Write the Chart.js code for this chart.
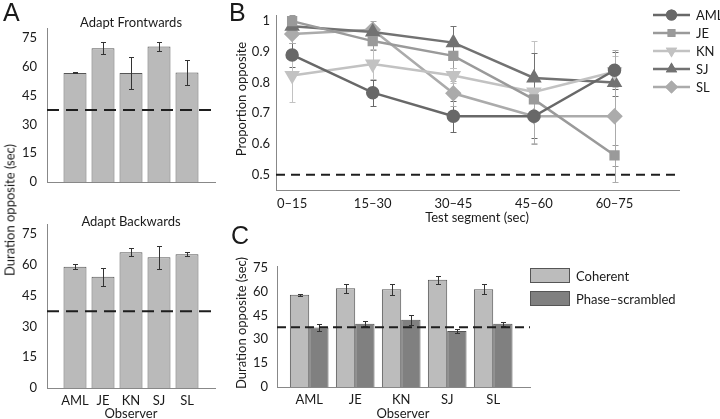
<!DOCTYPE html>
<html>
<head>
<meta charset="utf-8">
<script src="https://cdn.jsdelivr.net/npm/chart.js@4.4.1/dist/chart.umd.min.js"></script>
<style>
  html, body { margin: 0; padding: 0; background: #fff; }
  #fig { position: relative; width: 720px; height: 419px; overflow: hidden; font-family: Lato, 'Open Sans', sans-serif; color: #1a1a1a; }
  .box { position: absolute; }
  .box canvas { display: block; }
  .t { position: absolute; transform: translate(-50%, -50%); white-space: nowrap; font-size: 13px; line-height: 1; }
  .rot { transform: translate(-50%, -50%) rotate(-90deg); }
  .letter { position: absolute; font-family: 'Liberation Sans', Arial, sans-serif; font-size: 25px; line-height: 1; }
  .lt { position: absolute; font-size: 13px; line-height: 1; transform: translateY(-50%); white-space: nowrap; }
  .sw { position: absolute; width: 40px; height: 15px; box-sizing: border-box; border: 1px solid #555; }
</style>
</head>
<body>
<div id="fig">
  <div class="box" style="left:0;top:0;width:225px;height:200px"><canvas id="front" width="225" height="200"></canvas></div>
  <div class="box" style="left:0;top:200px;width:225px;height:219px"><canvas id="back" width="225" height="219"></canvas></div>
  <div class="box" style="left:236px;top:0;width:484px;height:230px"><canvas id="segments" width="484" height="230"></canvas></div>
  <div class="box" style="left:236px;top:250px;width:300px;height:169px"><canvas id="coherence" width="300" height="169"></canvas></div>

  <div class="letter" style="left:3px;top:0">A</div>
  <div class="letter" style="left:229px;top:0">B</div>
  <div class="letter" style="left:231px;top:223px">C</div>

  <div class="t" style="left:131px;top:22px">Adapt Frontwards</div>
  <div class="t" style="left:131px;top:221px">Adapt Backwards</div>
  <div class="t rot" style="left:10px;top:210px">Duration opposite (sec)</div>
  <div class="t" style="left:131px;top:413px">Observer</div>

  <div class="t rot" style="left:241px;top:99px">Proportion opposite</div>
  <div class="t" style="left:477px;top:217px">Test segment (sec)</div>
  <div id="legend-b"></div>

  <div class="t rot" style="left:241px;top:323px">Duration opposite (sec)</div>
  <div class="t" style="left:403px;top:413px">Observer</div>
  <div class="sw" style="left:530px;top:268px;background:#bcbcbc"></div>
  <div class="lt" style="left:576px;top:276px">Coherent</div>
  <div class="sw" style="left:530px;top:291px;background:#808080"></div>
  <div class="lt" style="left:576px;top:299px">Phase–scrambled</div>
</div>
<script>
(() => {
  'use strict';
  // observers and test segments
  const OBSERVERS = ['AML', 'JE', 'KN', 'SJ', 'SL'];
  const SEGMENTS = ['0–15', '15–30', '30–45', '45–60', '60–75'];
  const DURATION_TICKS = [0, 15, 30, 45, 60, 75];
  const PROPORTION_TICKS = [0.5, 0.6, 0.7, 0.8, 0.9, 1];
  const PROPORTION_LABELS = ['0.5', '0.6', '0.7', '0.8', '0.9', '1'];
  const CHANCE_DURATION = 37.5;
  const CHANCE_PROPORTION = 0.5;

  // panel A (sec)
  const FRONT_MEAN = [56.7, 69.5, 56.6, 70.4, 56.9];
  const FRONT_ERR = [0.3, 3.2, 8.4, 2.5, 6.3];
  const BACK_MEAN = [59.2, 54.3, 66.2, 63.8, 65.2];
  const BACK_ERR = [1.1, 4.3, 2.0, 5.6, 0.9];

  // panel B (proportion opposite per segment)
  const AML_PROP = [0.89, 0.767, 0.69, 0.69, 0.84];
  const AML_ERR = [0.04, 0.042, 0.05, 0.07, 0.06];
  const JE_PROP = [1.0, 0.935, 0.887, 0.745, 0.563];
  const JE_ERR = [0.02, 0.03, 0.04, 0.06, 0.035];
  const KN_PROP = [0.823, 0.86, 0.823, 0.769, 0.835];
  const KN_ERR = [0.087, 0.05, 0.025, 0.165, 0.05];
  const SJ_PROP = [0.983, 0.965, 0.93, 0.815, 0.80];
  const SJ_ERR = [0.02, 0.02, 0.055, 0.08, 0.045];
  const SL_PROP = [0.958, 0.972, 0.765, 0.69, 0.69];
  const SL_ERR = [0.03, 0.03, 0.04, 0.09, 0.215];

  // panel C (sec)
  const COHERENT = [57.9, 62.0, 61.4, 67.4, 61.4];
  const COHERENT_ERR = [0.7, 3.0, 3.5, 2.6, 3.0];
  const SCRAMBLED = [37.3, 39.8, 42.2, 35.1, 39.8];
  const SCRAMBLED_ERR = [2.0, 1.6, 3.2, 1.3, 1.2];

  const SERIES = [
    { label: 'AML', values: AML_PROP, err: AML_ERR, color: '#686868', style: 'circle', rot: 0, r: 5.5 },
    { label: 'JE', values: JE_PROP, err: JE_ERR, color: '#9a9a9a', style: 'rect', rot: 0, r: 5.5 },
    { label: 'KN', values: KN_PROP, err: KN_ERR, color: '#c2c2c2', style: 'triangle', rot: 180, r: 6.5 },
    { label: 'SJ', values: SJ_PROP, err: SJ_ERR, color: '#727272', style: 'triangle', rot: 0, r: 6.5 },
    { label: 'SL', values: SL_PROP, err: SL_ERR, color: '#ababab', style: 'rectRot', rot: 0, r: 6.5 }
  ];

  const $ = id => document.getElementById(id);
  Chart.defaults.font.family = "Lato, 'Open Sans', sans-serif";
  Chart.defaults.font.size = 13;
  Chart.defaults.color = '#1a1a1a';
  Chart.defaults.animation = false;

  function drawErrors(chart, opts) {
    const { ctx, chartArea: a, scales: { y } } = chart;
    ctx.save();
    ctx.beginPath(); ctx.rect(a.left, a.top - 1, a.right - a.left, a.bottom - a.top + 1); ctx.clip();
    chart.data.datasets.forEach((ds, i) => {
      if (!ds.err) return;
      ctx.strokeStyle = ds.errColor || opts.color;
      ctx.lineWidth = 1;
      chart.getDatasetMeta(i).data.forEach((el, j) => {
        const v = ds.data[j].y, e = ds.err[j];
        const top = Math.round(y.getPixelForValue(v + e)) + 0.5, bot = Math.round(y.getPixelForValue(v - e)) + 0.5;
        const x = Math.round(el.x) + 0.5, c = opts.cap;
        ctx.beginPath();
        ctx.moveTo(x, top); ctx.lineTo(x, bot);
        ctx.moveTo(x - c, top); ctx.lineTo(x + c, top);
        ctx.moveTo(x - c, bot); ctx.lineTo(x + c, bot);
        ctx.stroke();
      });
    });
    ctx.restore();
  }

  const errorBars = {
    id: 'errorBars',
    beforeDatasetsDraw(chart, args, opts) { if (opts.behind) drawErrors(chart, opts); },
    afterDatasetsDraw(chart, args, opts) { if (!opts.behind) drawErrors(chart, opts); }
  };

  const refLine = {
    id: 'refLine',
    afterDatasetsDraw(chart, args, opts) {
      const { ctx, chartArea: a, scales: { y } } = chart;
      const py = y.getPixelForValue(opts.value);
      ctx.save();
      ctx.strokeStyle = '#1e1e1e'; ctx.lineWidth = 2; ctx.setLineDash(opts.dash);
      ctx.beginPath(); ctx.moveTo(a.left, py); ctx.lineTo(a.right, py); ctx.stroke();
      ctx.restore();
    }
  };

  const legendMarks = {
    id: 'legendMarks',
    afterDraw(chart, args, opts) {
      const ctx = chart.ctx;
      SERIES.forEach((s, k) => {
        const y = opts.top + k * opts.step;
        ctx.save();
        ctx.strokeStyle = s.color; ctx.fillStyle = s.color; ctx.lineWidth = 2.5;
        ctx.beginPath(); ctx.moveTo(opts.left, y); ctx.lineTo(opts.left + 37, y); ctx.stroke();
        Chart.helpers.drawPoint(ctx, { pointStyle: s.style, radius: s.r, rotation: s.rot, borderWidth: 0 }, opts.left + 18.5, y);
        ctx.fill();
        ctx.restore();
      });
    }
  };

  const axisLine = { color: '#888', width: 1 };
  const noGrid = { display: false, drawTicks: false };

  function fixedTicks(values) { return scale => { scale.ticks = values.map(v => ({ value: v })); }; }

  function durationBars(id, mean, err, showLabels, padTop, xHeight) {
    return new Chart($(id), {
      type: 'bar',
      data: { datasets: [{ data: mean.map((v, i) => ({ x: i + 1, y: v })), err,
        backgroundColor: '#bababa', borderColor: '#555', borderWidth: 1, barPercentage: 0.82, categoryPercentage: 1 }] },
      options: {
        responsive: false, layout: { padding: { top: padTop, right: 10 } },
        plugins: { legend: { display: false }, tooltip: { enabled: false },
          errorBars: { color: '#333', cap: 2.5 }, refLine: { value: CHANCE_DURATION, dash: [12, 7] } },
        scales: {
          x: { type: 'linear', offset: false, min: 0, max: 6, grid: noGrid, border: axisLine,
            afterBuildTicks: fixedTicks(OBSERVERS.map((_, i) => i + 1)),
            ticks: { display: showLabels, padding: 5, callback: v => OBSERVERS[v - 1] },
            afterFit: s => { s.height = xHeight; } },
          y: { min: 0, max: 80, grid: noGrid, border: axisLine,
            afterBuildTicks: fixedTicks(DURATION_TICKS), ticks: { padding: 10 },
            afterFit: s => { s.width = 47; } }
        }
      },
      plugins: [errorBars, refLine]
    });
  }

  function renderSegments() {
    const legend = $('legend-b');
    legend.innerHTML = SERIES.map((s, k) => `<div class="lt" style="left:696px;top:${15 + k * 18}px">${s.label}</div>`).join('');
    new Chart($('segments'), {
      type: 'line',
      data: { datasets: SERIES.map(s => ({
        label: s.label, data: s.values.map((v, i) => ({ x: i, y: v })), err: s.err, errColor: s.color,
        borderColor: s.color, backgroundColor: s.color, pointBorderColor: s.color, pointBackgroundColor: s.color,
        pointStyle: s.style, pointRotation: s.rot, pointRadius: s.r, borderWidth: 2.5, clip: false
      })) },
      options: {
        responsive: false, layout: { padding: { top: 15, right: 41 } },
        plugins: { legend: { display: false }, tooltip: { enabled: false },
          errorBars: { cap: 3, behind: true }, refLine: { value: CHANCE_PROPORTION, dash: [9, 6] },
          legendMarks: { left: 417, top: 15, step: 18 } },
        scales: {
          x: { type: 'linear', min: -0.2, max: 4.8, grid: noGrid, border: axisLine,
            afterBuildTicks: fixedTicks(SEGMENTS.map((_, i) => i)),
            ticks: { padding: 6, callback: v => SEGMENTS[v] },
            afterFit: s => { s.height = 40; } },
          y: { min: 0.45, max: 1.02, grid: noGrid, border: axisLine,
            afterBuildTicks: fixedTicks(PROPORTION_TICKS),
            ticks: { padding: 6, callback: v => PROPORTION_LABELS[PROPORTION_TICKS.indexOf(v)] },
            afterFit: s => { s.width = 40; } }
        }
      },
      plugins: [errorBars, refLine, legendMarks]
    });
  }

  function renderCoherence() {
    const bars = (values, err, color) => ({ data: values.map((v, i) => ({ x: i + 1, y: v })), err,
      backgroundColor: color, borderColor: '#555', borderWidth: 1, barPercentage: 1, categoryPercentage: 0.84 });
    new Chart($('coherence'), {
      type: 'bar',
      data: { datasets: [bars(COHERENT, COHERENT_ERR, '#bcbcbc'), bars(SCRAMBLED, SCRAMBLED_ERR, '#808080')] },
      options: {
        responsive: false, layout: { padding: { top: 13, right: 6 } },
        plugins: { legend: { display: false }, tooltip: { enabled: false },
          errorBars: { color: '#333', cap: 2.5 }, refLine: { value: CHANCE_DURATION, dash: [9, 5] } },
        scales: {
          x: { type: 'linear', offset: false, min: 0.3, max: 5.8, grid: noGrid, border: axisLine,
            afterBuildTicks: fixedTicks(OBSERVERS.map((_, i) => i + 1)),
            ticks: { padding: 5, callback: v => OBSERVERS[v - 1] },
            afterFit: s => { s.height = 32; } },
          y: { min: 0, max: 75.5, grid: noGrid, border: axisLine,
            afterBuildTicks: fixedTicks(DURATION_TICKS), ticks: { padding: 9 },
            afterFit: s => { s.width = 41; } }
        }
      },
      plugins: [errorBars, refLine]
    });
  }

  durationBars('front', FRONT_MEAN, FRONT_ERR, false, 28, 10);
  durationBars('back', BACK_MEAN, BACK_ERR, true, 24, 31);
  renderSegments();
  renderCoherence();
})();
</script>
</body>
</html>
